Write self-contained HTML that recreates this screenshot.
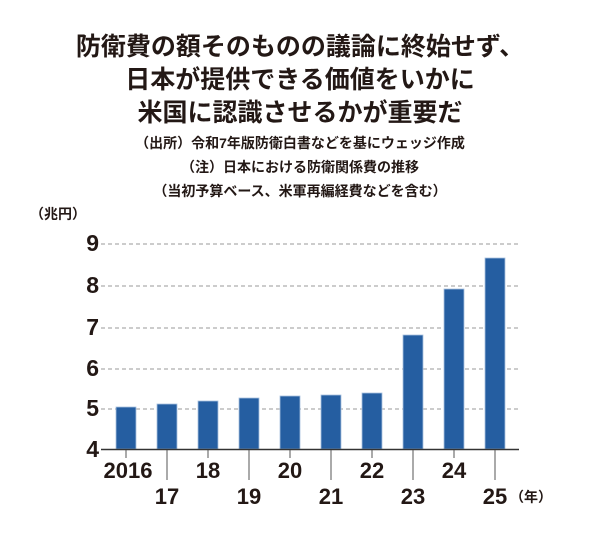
<!DOCTYPE html>
<html><head><meta charset="utf-8"><style>
body{margin:0;background:#fff;width:600px;height:532px;overflow:hidden}
svg text{font-family:"Liberation Sans","Noto Sans CJK JP",sans-serif;fill:#231815}
</style></head><body>
<svg width="600" height="532" viewBox="0 0 600 532">
<g font-weight="bold" font-size="25" text-anchor="middle">
<text x="300" y="55" font-family="Noto Sans CJK JP">防衛費の額そのものの議論に終始せず、</text>
<text x="300" y="88" font-family="Noto Sans CJK JP">日本が提供できる価値をいかに</text>
<text x="300" y="121" font-family="Noto Sans CJK JP">米国に認識させるかが重要だ</text>
</g>
<g font-size="14" text-anchor="middle" font-weight="bold">
<text x="300" y="148" font-family="Noto Sans CJK JP">（出所）令和7年版防衛白書などを基にウェッジ作成</text>
<text x="300" y="172" font-family="Noto Sans CJK JP">（注）日本における防衛関係費の推移</text>
<text x="300" y="196" font-family="Noto Sans CJK JP">（当初予算ベース、米軍再編経費などを含む）</text>
</g>
<text x="30" y="219" font-size="14" font-weight="bold" font-family="Noto Sans CJK JP">（兆円）</text>
<g stroke="#999" stroke-dasharray="4,3" stroke-width="1">
<line x1="101" y1="244" x2="519" y2="244"/><line x1="101" y1="286" x2="519" y2="286"/>
<line x1="101" y1="328" x2="519" y2="328"/><line x1="101" y1="369" x2="519" y2="369"/>
<line x1="101" y1="409" x2="519" y2="409"/>
</g>
<g font-size="23" text-anchor="end" font-weight="bold">
<text x="99" y="251">9</text><text x="99" y="293">8</text><text x="99" y="335">7</text>
<text x="99" y="376">6</text><text x="99" y="416">5</text><text x="99" y="457">4</text>
</g>
<g fill="#255ea1" stroke="#a9c2e0" stroke-width="0.8">
<rect x="116" y="407" width="20" height="42"/>
<rect x="157" y="404" width="20" height="45"/>
<rect x="198" y="401" width="20" height="48"/>
<rect x="239" y="398" width="20" height="51"/>
<rect x="280" y="396" width="20" height="53"/>
<rect x="321" y="395" width="20" height="54"/>
<rect x="362" y="393" width="20" height="56"/>
<rect x="403" y="335" width="20" height="114"/>
<rect x="444" y="289" width="20" height="160"/>
<rect x="485" y="258" width="20" height="191"/>
</g>
<line x1="101" y1="449.5" x2="519" y2="449.5" stroke="#333" stroke-width="1.5"/>
<g stroke="#555" stroke-width="1">
<line x1="126" y1="450" x2="126" y2="458"/><line x1="167" y1="450" x2="167" y2="480"/>
<line x1="208" y1="450" x2="208" y2="458"/><line x1="249" y1="450" x2="249" y2="480"/>
<line x1="290" y1="450" x2="290" y2="458"/><line x1="331" y1="450" x2="331" y2="480"/>
<line x1="372" y1="450" x2="372" y2="458"/><line x1="413" y1="450" x2="413" y2="480"/>
<line x1="454" y1="450" x2="454" y2="458"/><line x1="495" y1="450" x2="495" y2="480"/>
</g>
<g font-size="22" text-anchor="middle" font-weight="bold">
<text x="128" y="478">2016</text><text x="208" y="478">18</text><text x="290" y="478">20</text>
<text x="372" y="478">22</text><text x="454" y="478">24</text>
<text x="167" y="504">17</text><text x="249" y="504">19</text><text x="331" y="504">21</text>
<text x="413" y="504">23</text><text x="495" y="504">25</text>
</g>
<text x="510" y="502" font-size="14" font-weight="bold" font-family="Noto Sans CJK JP">（年）</text>
</svg>
</body></html>
